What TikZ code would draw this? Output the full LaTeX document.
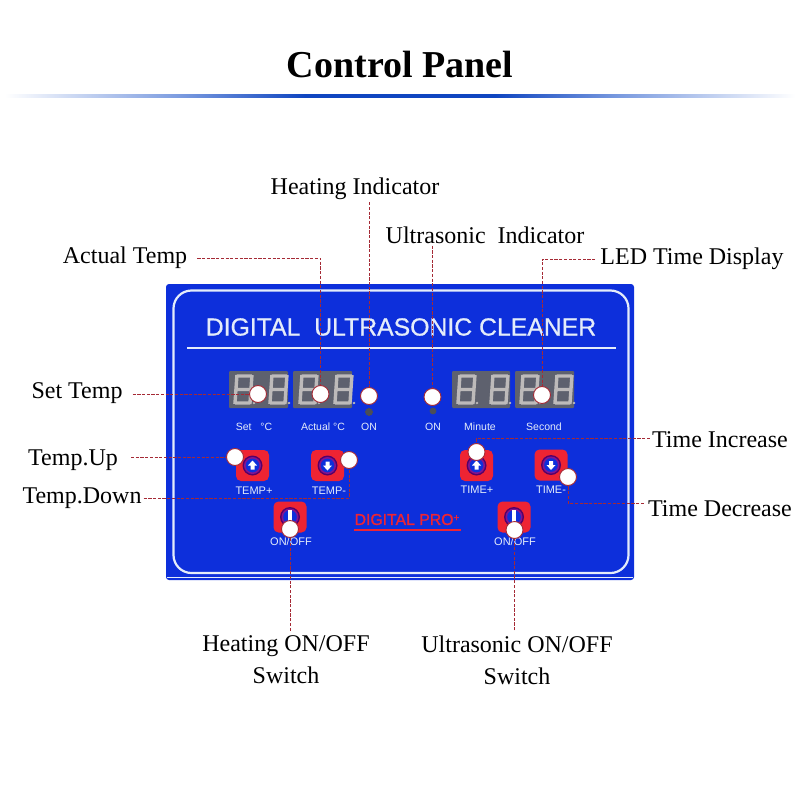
\documentclass[tikz,border=0pt]{standalone}
\usepackage{fontspec}
\setmainfont{Liberation Serif}
\newfontfamily\panelfont{Liberation Sans}
\newfontfamily\panelheavy[FakeBold=0.7]{Liberation Sans}
\newfontfamily\brandfont[FakeBold=1.2]{Liberation Sans}
\definecolor{panelblue}{HTML}{0D2FDB}
\definecolor{leadred}{HTML}{A52A35}
\definecolor{btnred}{HTML}{EE2433}
\definecolor{segbase}{HTML}{5E616E}
\definecolor{segon}{HTML}{BDBABA}
\definecolor{panelline}{HTML}{E4ECFA}
\definecolor{rulecolor}{HTML}{0F45C0}
\definecolor{rulemid}{HTML}{7C9CE0}
\pgfdeclarehorizontalshading{rulefade}{100bp}{color(0bp)=(white); color(25bp)=(white); color(36bp)=(rulemid); color(44bp)=(rulecolor); color(56bp)=(rulecolor); color(64bp)=(rulemid); color(75bp)=(white); color(100bp)=(white)}
\tikzset{
  lbl/.style={font=\fontsize{24}{32}\selectfont, text=black, inner sep=2pt, align=center},
  dotmark/.style={circle, draw=leadred, line width=0.9pt, fill=white, minimum size=17pt, inner sep=0pt},
  leader/.style={draw=leadred, line width=1pt, dash pattern=on 3.2pt off 1.5pt},
  plabel/.style={font=\panelfont\fontsize{10.5}{12}\selectfont, text=panelline, inner sep=0pt},
  btnlabel/.style={font=\panelfont\fontsize{11}{12}\selectfont, text=panelline, inner sep=0pt},
  seg/.style={draw=segon, line width=3.4pt, line cap=butt},
}
% 7-segment digit: left, top
\newcommand{\segdigit}[2]{%
  \begin{scope}[shift={(#1+2,#2+28)}, xslant=0.07]
    \draw[seg] (1,-27) -- (16,-27) (1,-13.5) -- (16,-13.5) (1,0) -- (16,0)
      (1,-28) -- (1,1) (16,-28) -- (16,1);
    \fill[segon] (20,0) circle (1.3);
  \end{scope}}
% button: centre x, y, glyph (0 up, 1 down, 2 bar)
\newcommand{\panelbtn}[3]{%
  \fill[btnred, rounded corners=5pt] (#1-16.5,#2-15.5) rectangle (#1+16.5,#2+15.5);
  \fill[blue!55!red!75!black] (#1,#2) circle (10);
  \fill[btnred!55!blue] (#1,#2) circle (8.5);
  \fill[panelblue] (#1,#2) circle (6.8);
  \ifcase#3
    \fill[white] (#1,#2-5) -- (#1+4.5,#2) -- (#1+2,#2) -- (#1+2,#2+4) -- (#1-2,#2+4) -- (#1-2,#2) -- (#1-4.5,#2) -- cycle;
  \or
    \fill[white] (#1,#2+5) -- (#1+4.5,#2) -- (#1+2,#2) -- (#1+2,#2-4) -- (#1-2,#2-4) -- (#1-2,#2) -- (#1-4.5,#2) -- cycle;
  \or
    \fill[white] (#1-2,#2-7) rectangle (#1+2,#2+6);
  \fi}
\begin{document}
\begin{tikzpicture}[x=1pt,y=-1pt]
\useasboundingbox (0,0) rectangle (800,800);
% title
\node[font=\bfseries\fontsize{38}{44}\selectfont] (title) at (400,65) {Control Panel};
\shade[shading=rulefade] (5,94) rectangle (795,97);
% panel
\fill[panelblue, rounded corners=3pt] (166,284) rectangle (634,580);
\draw[panelline, line width=2.2pt, rounded corners=18pt] (173.5,290.5) rectangle (628.5,573);
\draw[panelline, line width=1pt] (167,577.5) -- (633,577.5);
\node[font=\panelheavy\fontsize{24.8}{28}\selectfont, text=panelline, inner sep=0pt] (ptitle) at (401,327) {DIGITAL\ \ ULTRASONIC CLEANER};
\draw[panelline, line width=2pt] (187,347.5) -- (616,347.5);
% displays
\foreach \a/\b in {229/288,293/352,452/510,515/574}
  \fill[segbase, rounded corners=1pt] (\a,371) rectangle (\b,408);
\foreach \x in {232,267,297,332,455,488,518,552}
  \segdigit{\x}{375}
% indicators
\fill[segbase!80!black] (369,412) circle (3.6);
\fill[segbase!80!black] (433,411) circle (3.4);
% panel texts
\node[plabel] (tset) at (254,427) {Set\ \ \ °C};
\node[plabel] (tact) at (323,427) {Actual °C};
\node[plabel] (ton1) at (369,427) {ON};
\node[plabel] (ton2) at (433,427) {ON};
\node[plabel] (tmin) at (480,427) {Minute};
\node[plabel] (tsec) at (544,427) {Second};
\panelbtn{252.5}{465.5}{0}
\panelbtn{327.5}{465.5}{1}
\panelbtn{290}{517}{2}
\panelbtn{476.5}{465.5}{0}
\panelbtn{551}{465}{1}
\panelbtn{514}{517}{2}
\node[btnlabel] (ttp) at (254,491) {TEMP+};
\node[btnlabel] (ttm) at (329,491) {TEMP-};
\node[btnlabel] (toh) at (291,542) {ON/OFF};
\node[btnlabel] (tip) at (477,490) {TIME+};
\node[btnlabel] (tim) at (551,490) {TIME-};
\node[btnlabel] (tou) at (515,542) {ON/OFF};
\node[font=\brandfont\fontsize{15.8}{17}\selectfont, text=btnred, inner sep=0pt] (brand) at (407,519.5) {DIGITAL PRO\raisebox{4pt}{\fontsize{10}{10}\selectfont +}};
\draw[btnred, line width=1.8pt] (354,530) -- (461,530);
% outer labels
\node[lbl] (lheat) at (355,189) {Heating Indicator};
\node[lbl] (lact) at (125,258) {Actual Temp};
\node[lbl] (lult) at (485,235) {Ultrasonic\ \ Indicator};
\node[lbl] (lled) at (692,259) {LED Time Display};
\node[lbl] (lset) at (77,393) {Set Temp};
\node[lbl] (lup) at (73,460) {Temp.Up};
\node[lbl] (ldn) at (82,498) {Temp.Down};
\node[lbl] (linc) at (720,440) {Time Increase};
\node[lbl] (ldec) at (720,509) {Time Decrease};
\node[lbl] (lhsw) at (286,660) {Heating ON/OFF\\Switch};
\node[lbl] (lusw) at (517,660) {Ultrasonic ON/OFF\\Switch};
% dots
\node[dotmark] (dset) at (258,394) {};
\node[dotmark] (dact) at (320.5,394) {};
\node[dotmark] (dheat) at (369,396) {};
\node[dotmark] (dult) at (432.5,397) {};
\node[dotmark] (dled) at (542,395) {};
\node[dotmark] (dup) at (235,457) {};
\node[dotmark] (ddn) at (349,460) {};
\node[dotmark] (dhsw) at (290,529) {};
\node[dotmark] (dinc) at (476.5,452) {};
\node[dotmark] (ddec) at (568,477) {};
\node[dotmark] (dusw) at (514.5,530) {};
% leaders
\draw[leader] ([xshift=8pt]lact.east) -| (dact);
\draw[leader] (lheat.south -| dheat) -- (dheat);
\draw[leader] (lult.south -| dult) -- (dult);
\draw[leader] ([xshift=-3pt]lled.west) -| (dled);
\draw[leader] ([xshift=8pt]lset.east |- dset) -- (dset);
\draw[leader] ([xshift=11pt]lup.east |- dup) -- (dup);
\draw[leader] (ldn.east) -| (ddn);
\draw[leader] ([yshift=2pt]linc.west) -| (dinc);
\draw[leader] ([xshift=-2pt,yshift=6pt]ldec.west) -| (ddec);
\draw[leader] ([yshift=3pt]lhsw.north -| dhsw) -- (dhsw);
\draw[leader] ([yshift=3pt]lusw.north -| dusw) -- (dusw);
\end{tikzpicture}
\end{document}
